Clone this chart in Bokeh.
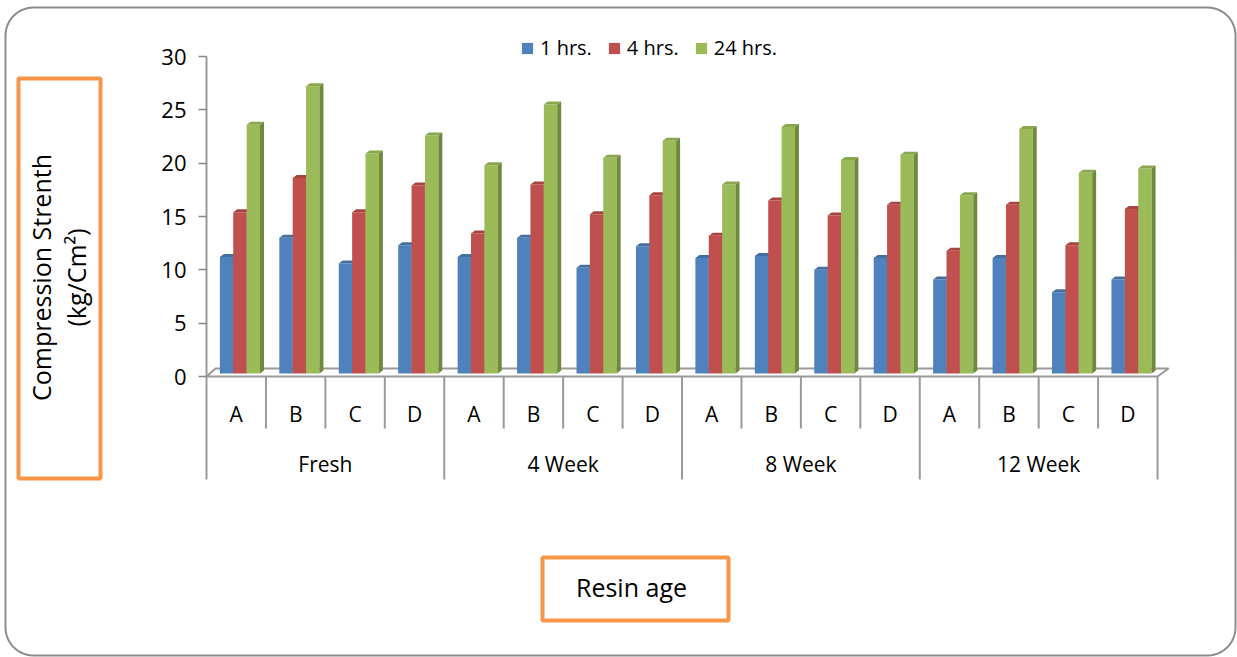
import math
from bokeh.plotting import figure
from bokeh.models import (Range1d, FixedTicker, Legend, LegendItem, Label,
                          BoxAnnotation, ColumnDataSource)
from bokeh.embed import file_html
from bokeh.resources import INLINE
from bokeh.core.properties import value

# ---------------- data ----------------
groups = ["Fresh", "4 Week", "8 Week", "12 Week"]
letters = ["A", "B", "C", "D"]
series = ["1 hrs.", "4 hrs.", "24 hrs."]
hrs1 = [11.2, 13.0, 10.6, 12.3, 11.2, 13.0, 10.2, 12.2, 11.1, 11.3, 10.0, 11.1, 9.1, 11.1, 7.9, 9.1]
hrs4 = [15.4, 18.6, 15.4, 17.9, 13.4, 18.0, 15.2, 17.0, 13.2, 16.5, 15.1, 16.1, 11.8, 16.1, 12.3, 15.7]
hrs24 = [23.6, 27.2, 20.9, 22.6, 19.8, 25.5, 20.5, 22.1, 18.0, 23.4, 20.3, 20.8, 17.0, 23.2, 19.1, 19.5]
yticks = [0, 5, 10, 15, 20, 25, 30]

front_colors = ["#4F81BD", "#C0504D", "#9BBB59"]
top_colors = ["#44709F", "#A84441", "#89A84C"]
side_colors = ["#385D8A", "#8C3836", "#71893F"]
FONT = "Open Sans"

# ---------------- layout helpers (canvas pixels -> data) ----------------
W, H = 1237, 657
SX = 59.44      # px per category
SY = 320 / 30   # px per unit
X0, Y0 = 206, 376


def dx(px):
    return (px - X0) / SX


def dy(py):
    return (Y0 - py) / SY


p = figure(width=W, height=H, output_backend="svg", toolbar_location=None,
           x_range=Range1d(dx(0), dx(W)), y_range=Range1d(dy(H), dy(0)),
           x_axis_location=None,
           min_border_left=0, min_border_right=0,
           min_border_top=0, min_border_bottom=0)
p.xgrid.visible = False
p.ygrid.visible = False
p.outline_line_color = None
p.background_fill_color = "white"
p.border_fill_color = "white"

GRAY = "#9a9a9a"

yax = p.yaxis[0]
yax.fixed_location = 0
yax.bounds = (yticks[0], yticks[-1])
yax.ticker = FixedTicker(ticks=yticks)
yax.axis_line_color = GRAY
yax.axis_line_width = 2
yax.major_tick_line_color = "#878787"
yax.major_tick_line_width = 1.5
yax.major_tick_out = 8
yax.major_tick_in = 0
yax.minor_tick_line_color = None
yax.major_label_text_font = FONT
yax.major_label_text_font_size = "22px"
yax.major_label_text_color = "#000000"
yax.major_label_standoff = 12


# outer rounded frame (built in pixel space, then mapped)
def rounded_rect(x0, y0, x1, y1, r, steps=12):
    pts = []
    corners = [(x1 - r, y0 + r, -90), (x1 - r, y1 - r, 0), (x0 + r, y1 - r, 90), (x0 + r, y0 + r, 180)]
    for cx, cy, a0 in corners:
        for s in range(steps + 1):
            a = math.radians(a0 + 90 * s / steps)
            pts.append((cx + r * math.cos(a), cy + r * math.sin(a)))
    pts.append(pts[0])
    return [dx(a) for a, b in pts], [dy(b) for a, b in pts]


bx, by = rounded_rect(5, 7, 1235, 655, 28)
p.line(bx, by, line_color="#8c8c8c", line_width=2)

n = len(groups) * len(letters)

# floor (3D base)
depth_x, depth_y = 4 / SX, 3 / SY
floor_back = dy(368)
p.patch([0, n, n + 0.185, 0.151], [0, 0, floor_back, floor_back],
        fill_color=None, line_color=GRAY, line_width=2)

# category separators
sep_x, sep_y0, sep_y1 = [], [], []
for i in range(n + 1):
    sep_x.append(i)
    sep_y0.append(0)
    sep_y1.append(dy(479) if i % len(letters) == 0 else dy(428))
p.segment(x0=sep_x, y0=sep_y0, x1=sep_x, y1=sep_y1, line_color=GRAY, line_width=2)

# bars with a 3D look
base = dy(373)
bw = 0.225
renderers = []
for k, vals in enumerate([hrs1, hrs4, hrs24]):
    lefts = [i + bw * (k + 1) for i in range(n)]
    centers = [l + bw / 2 for l in lefts]
    rights = [l + bw for l in lefts]
    src = ColumnDataSource(dict(x=centers, top=vals, bottom=[base] * n))
    r = p.vbar(x="x", top="top", bottom="bottom", width=bw, source=src,
               fill_color=front_colors[k], line_color=None)
    renderers.append(r)
    top_xs = [[l, l + depth_x, rr + depth_x, rr] for l, rr in zip(lefts, rights)]
    top_ys = [[v, v + depth_y, v + depth_y, v] for v in vals]
    p.patches(top_xs, top_ys, fill_color=top_colors[k], line_color=None)
    side_xs = [[rr, rr + depth_x, rr + depth_x, rr] for rr in rights]
    side_ys = [[base, base + depth_y, v + depth_y, v] for v in vals]
    p.patches(side_xs, side_ys, fill_color=side_colors[k], line_color=None)

# category labels
lx = [i + 0.5 for i in range(n)]
ltext = [letters[i % len(letters)] for i in range(n)]
p.text(x=lx, y=[dy(413)] * n, text=ltext, text_align="center",
       text_baseline="middle", text_font=value(FONT), text_font_size="21px",
       text_color="#000000")
gx = [g * len(letters) + len(letters) / 2 for g in range(len(groups))]
p.text(x=gx, y=[dy(463)] * len(groups), text=groups, text_align="center",
       text_baseline="middle", text_font=value(FONT), text_font_size="21px",
       text_color="#000000")

# legend
legend = Legend(items=[LegendItem(label=s, renderers=[r]) for s, r in zip(series, renderers)],
                orientation="horizontal", location=(520, H - 61),
                glyph_width=14, glyph_height=14, label_standoff=6, spacing=15,
                padding=0, margin=0, border_line_color=None,
                background_fill_alpha=0, label_text_font=FONT,
                label_text_font_size="20px", label_text_color="#000000")
p.add_layout(legend)

# axis titles in orange boxes
ORANGE = "#F79646"
p.add_layout(BoxAnnotation(left=dx(18), right=dx(100), top=dy(78), bottom=dy(478),
                           fill_alpha=0, line_color=ORANGE, line_alpha=1, line_width=4))
p.add_layout(BoxAnnotation(left=dx(542), right=dx(728), top=dy(557), bottom=dy(620),
                           fill_alpha=0, line_color=ORANGE, line_alpha=1, line_width=4))
p.add_layout(Label(x=dx(58), y=dy(277), text="Compression Strenth\n(kg/Cm²)",
                   angle=math.pi / 2, text_align="center", text_baseline="middle",
                   text_font=FONT, text_font_size="25px", text_line_height=1.05,
                   text_color="#000000"))
p.add_layout(Label(x=dx(631), y=dy(586), text="Resin age", text_align="center",
                   text_baseline="middle", text_font=FONT, text_font_size="25px",
                   text_color="#000000"))

open("out.html", "w").write(file_html(p, INLINE))
